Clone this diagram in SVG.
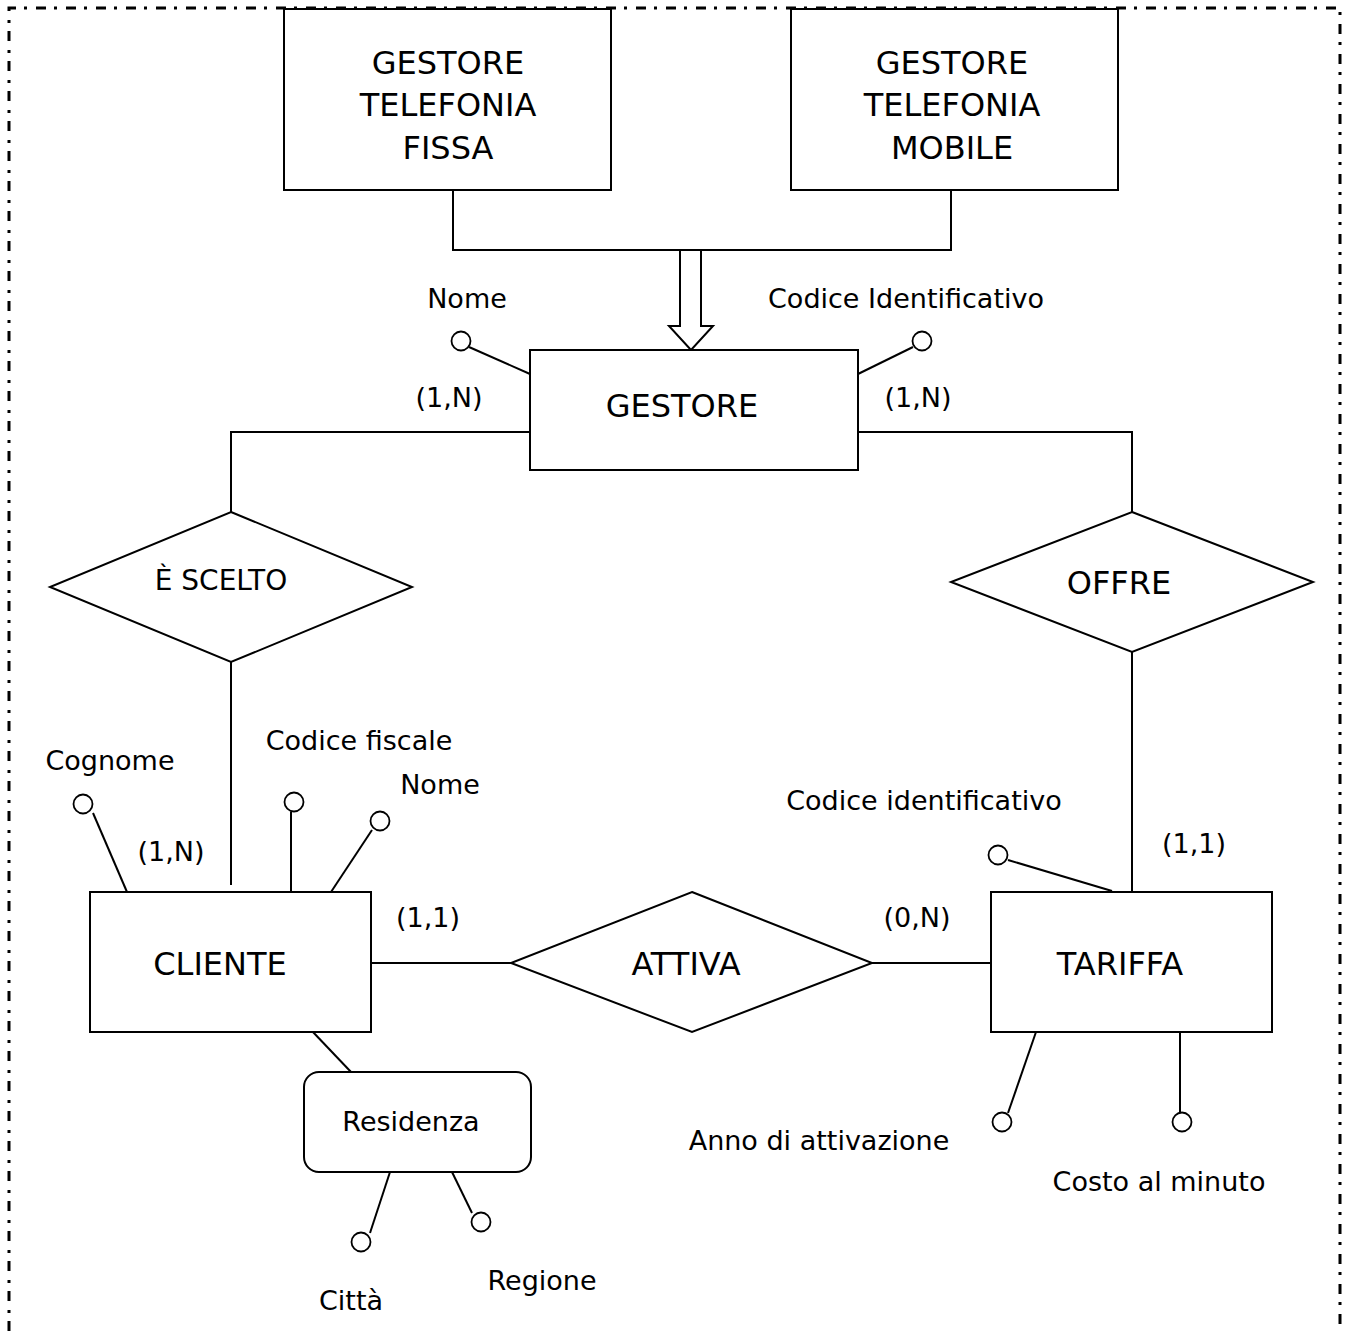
<svg xmlns="http://www.w3.org/2000/svg" width="1346" height="1331" viewBox="0 0 1346 1331">
  <style>
    .shape { fill: #ffffff; stroke: #000000; stroke-width: 2; }
    .link { fill: none; stroke: #000000; stroke-width: 2; }
    .attr { fill: #ffffff; stroke: #000000; stroke-width: 1.8; }
    .frame { fill: none; stroke: #000000; stroke-width: 3; stroke-dasharray: 10 8 3 9; }
    text { font-family: "DejaVu Sans", Verdana, sans-serif; fill: #000000; text-anchor: middle; }
    .big { font-size: 32px; }
    .mid { font-size: 28px; }
    .lbl { font-size: 27px; }
  </style>

  <!-- outer dash-dot frame -->
  <path class="frame" d="M9,1331 V8 H1340 V1331"/>

  <!-- connectors -->
  <g id="connectors">
    <!-- generalisation: two sub-entities joined into one hollow arrow -->
    <polyline class="link" points="453,190 453,250 951,250 951,190"/>
    <polygon class="shape" points="680,250 701,250 701,326 713,326 691,350 669,326 680,326"/>
    <!-- GESTORE - È SCELTO -->
    <polyline class="link" points="530,432 231,432 231,512"/>
    <!-- GESTORE - OFFRE -->
    <polyline class="link" points="858,432 1132,432 1132,512"/>
    <!-- È SCELTO - CLIENTE -->
    <line class="link" x1="231" y1="662" x2="231" y2="885"/>
    <!-- OFFRE - TARIFFA -->
    <line class="link" x1="1132" y1="652" x2="1132" y2="892"/>
    <!-- CLIENTE - ATTIVA - TARIFFA -->
    <line class="link" x1="371" y1="963" x2="511" y2="963"/>
    <line class="link" x1="872" y1="963" x2="991" y2="963"/>
    <!-- CLIENTE - Residenza -->
    <line class="link" x1="312" y1="1031" x2="351" y2="1072"/>
  </g>

  <!-- sub-entity: fixed line operator -->
  <g id="gestore-fissa">
    <rect class="shape" x="284" y="9" width="327" height="181"/>
    <text class="big" x="448" y="74">GESTORE</text>
    <text class="big" x="448" y="116">TELEFONIA</text>
    <text class="big" x="448" y="159">FISSA</text>
  </g>

  <!-- sub-entity: mobile operator -->
  <g id="gestore-mobile">
    <rect class="shape" x="791" y="9" width="327" height="181"/>
    <text class="big" x="952" y="74">GESTORE</text>
    <text class="big" x="952" y="116">TELEFONIA</text>
    <text class="big" x="952" y="159">MOBILE</text>
  </g>

  <!-- entity GESTORE with its attributes -->
  <g id="gestore">
    <rect class="shape" x="530" y="350" width="328" height="120"/>
    <text class="big" x="682" y="417">GESTORE</text>
    <line class="link" x1="469" y1="347" x2="530" y2="374"/>
    <circle class="attr" cx="461" cy="341" r="9.5"/>
    <text class="lbl" x="467" y="308">Nome</text>
    <line class="link" x1="913" y1="347" x2="858" y2="374"/>
    <circle class="attr" cx="922" cy="341" r="9.5"/>
    <text class="lbl" x="906" y="308">Codice Identificativo</text>
    <text class="lbl" x="449" y="407">(1,N)</text>
    <text class="lbl" x="918" y="407">(1,N)</text>
  </g>

  <!-- relationship È SCELTO -->
  <g id="e-scelto">
    <polygon class="shape" points="231,512 412,587 231,662 50,587"/>
    <text class="mid" x="221" y="590">È SCELTO</text>
  </g>

  <!-- relationship OFFRE -->
  <g id="offre">
    <polygon class="shape" points="1132,512 1313,582 1132,652 951,582"/>
    <text class="big" x="1119" y="594">OFFRE</text>
  </g>

  <!-- entity CLIENTE with its attributes -->
  <g id="cliente">
    <rect class="shape" x="90" y="892" width="281" height="140"/>
    <text class="big" x="220" y="975">CLIENTE</text>
    <line class="link" x1="93" y1="813" x2="127" y2="892"/>
    <circle class="attr" cx="83" cy="804" r="9.5"/>
    <text class="lbl" x="110" y="770">Cognome</text>
    <line class="link" x1="291" y1="812" x2="291" y2="892"/>
    <circle class="attr" cx="294" cy="802" r="9.5"/>
    <text class="lbl" x="359" y="750">Codice fiscale</text>
    <line class="link" x1="372" y1="830" x2="331" y2="892"/>
    <circle class="attr" cx="380" cy="821" r="9.5"/>
    <text class="lbl" x="440" y="794">Nome</text>
    <text class="lbl" x="171" y="861">(1,N)</text>
    <text class="lbl" x="428" y="927">(1,1)</text>
  </g>

  <!-- relationship ATTIVA -->
  <g id="attiva">
    <polygon class="shape" points="692,892 872,963 692,1032 511,963"/>
    <text class="big" x="686" y="975">ATTIVA</text>
  </g>

  <!-- entity TARIFFA with its attributes -->
  <g id="tariffa">
    <rect class="shape" x="991" y="892" width="281" height="140"/>
    <text class="big" x="1120" y="975">TARIFFA</text>
    <line class="link" x1="1008" y1="860" x2="1112" y2="891"/>
    <circle class="attr" cx="998" cy="855" r="9.5"/>
    <text class="lbl" x="924" y="810">Codice identificativo</text>
    <text class="lbl" x="1194" y="853">(1,1)</text>
    <text class="lbl" x="917" y="927">(0,N)</text>
    <line class="link" x1="1036" y1="1032" x2="1008" y2="1113"/>
    <circle class="attr" cx="1002" cy="1122" r="9.5"/>
    <text class="lbl" x="819" y="1150">Anno di attivazione</text>
    <line class="link" x1="1180" y1="1032" x2="1180" y2="1112"/>
    <circle class="attr" cx="1182" cy="1122" r="9.5"/>
    <text class="lbl" x="1159" y="1191">Costo al minuto</text>
  </g>

  <!-- composite attribute Residenza -->
  <g id="residenza">
    <rect class="shape" x="304" y="1072" width="227" height="100" rx="15" ry="15"/>
    <text class="lbl" x="411" y="1131">Residenza</text>
    <line class="link" x1="390" y1="1172" x2="370" y2="1233"/>
    <circle class="attr" cx="361" cy="1242" r="9.5"/>
    <text class="lbl" x="351" y="1310">Città</text>
    <line class="link" x1="452" y1="1172" x2="472" y2="1213"/>
    <circle class="attr" cx="481" cy="1222" r="9.5"/>
    <text class="lbl" x="542" y="1290">Regione</text>
  </g>
</svg>
